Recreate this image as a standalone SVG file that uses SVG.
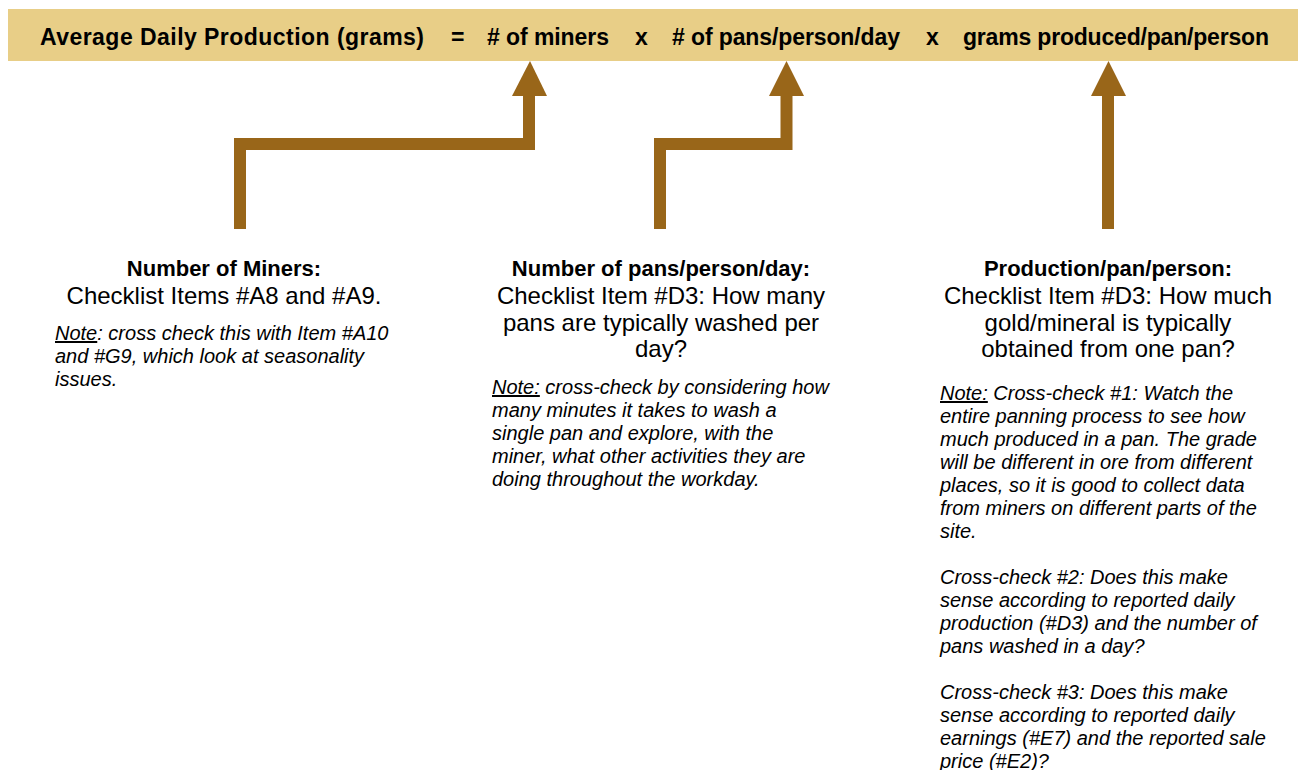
<svg xmlns="http://www.w3.org/2000/svg" width="1298" height="770" viewBox="0 0 1298 770">
<style>
text{font-family:"Liberation Sans",Arial,sans-serif;fill:#000}
.hdr{font-size:23px;font-weight:bold}
.ttl{font-size:22px;font-weight:bold;text-anchor:middle}
.body{font-size:24px;text-anchor:middle}
.note{font-size:20px;font-style:italic}
.u{text-decoration:underline}
.arrow{fill:#996619}
.shaft{fill:none;stroke:#996619;stroke-width:12;stroke-linejoin:miter}
</style>
<rect width="1298" height="770" fill="#fff"/>
<g id="banner">
<rect x="8" y="9" width="1290" height="52" fill="#E8CE87"/>
<text class="hdr" x="40" y="45" textLength="384">Average Daily Production (grams)</text>
<text class="hdr" x="451" y="45">=</text>
<text class="hdr" x="487" y="45" textLength="122"># of miners</text>
<text class="hdr" x="635" y="45">x</text>
<text class="hdr" x="672" y="45" textLength="228"># of pans/person/day</text>
<text class="hdr" x="926" y="45">x</text>
<text class="hdr" x="963" y="45" textLength="306">grams produced/pan/person</text>
</g>
<g id="connectors">
<polyline class="shaft" points="240,229 240,144 529,144 529,95"/>
<polygon class="arrow" points="530,61 547,96 512,96"/>
<polyline class="shaft" points="660,229 660,144 786.5,144 786.5,95"/>
<polygon class="arrow" points="786.5,61 804,96 769,96"/>
<polyline class="shaft" points="1108,229 1108,95"/>
<polygon class="arrow" points="1108.5,61 1126,96 1091,96"/>
</g>
<g id="node-miners">
<text class="ttl" x="224" y="276">Number of Miners:</text>
<text class="body" x="224" y="304">Checklist Items #A8 and #A9.</text>
<text class="note" x="55" y="340"><tspan class="u">Note</tspan>: cross check this with Item #A10</text>
<text class="note" x="55" y="363">and #G9, which look at seasonality</text>
<text class="note" x="55" y="386">issues.</text>
</g>
<g id="node-pans">
<text class="ttl" x="661" y="276">Number of pans/person/day:</text>
<text class="body" x="661" y="304">Checklist Item #D3: How many</text>
<text class="body" x="661" y="331">pans are typically washed per</text>
<text class="body" x="661" y="357">day?</text>
<text class="note" x="492" y="394"><tspan class="u">Note:</tspan> cross-check by considering how</text>
<text class="note" x="492" y="417">many minutes it takes to wash a</text>
<text class="note" x="492" y="440">single pan and explore, with the</text>
<text class="note" x="492" y="463">miner, what other activities they are</text>
<text class="note" x="492" y="486">doing throughout the workday.</text>
</g>
<g id="node-production">
<text class="ttl" x="1108" y="276">Production/pan/person:</text>
<text class="body" x="1108" y="304">Checklist Item #D3: How much</text>
<text class="body" x="1108" y="331">gold/mineral is typically</text>
<text class="body" x="1108" y="357">obtained from one pan?</text>
<text class="note" x="940" y="400"><tspan class="u">Note:</tspan> Cross-check #1: Watch the</text>
<text class="note" x="940" y="423">entire panning process to see how</text>
<text class="note" x="940" y="446">much produced in a pan. The grade</text>
<text class="note" x="940" y="469">will be different in ore from different</text>
<text class="note" x="940" y="492">places, so it is good to collect data</text>
<text class="note" x="940" y="515">from miners on different parts of the</text>
<text class="note" x="940" y="538">site.</text>
<text class="note" x="940" y="584">Cross-check #2: Does this make</text>
<text class="note" x="940" y="607">sense according to reported daily</text>
<text class="note" x="940" y="630">production (#D3) and the number of</text>
<text class="note" x="940" y="653">pans washed in a day?</text>
<text class="note" x="940" y="699">Cross-check #3: Does this make</text>
<text class="note" x="940" y="722">sense according to reported daily</text>
<text class="note" x="940" y="745">earnings (#E7) and the reported sale</text>
<text class="note" x="940" y="768">price (#E2)?</text>
</g>
</svg>
